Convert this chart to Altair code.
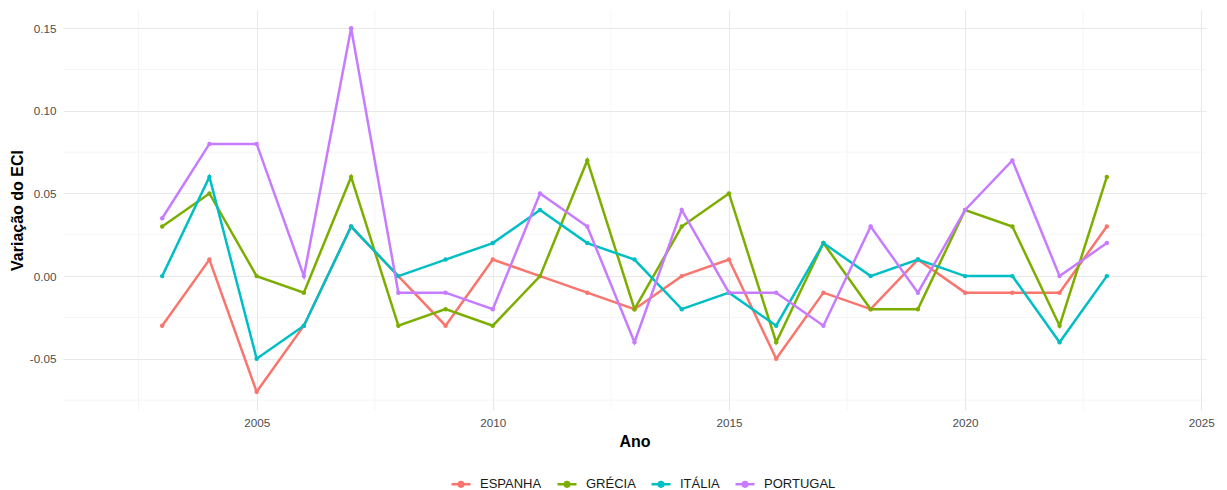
import altair as alt
import pandas as pd

anos = list(range(2003, 2024))
paises = ["ESPANHA", "GRÉCIA", "ITÁLIA", "PORTUGAL"]
cores = ["#F8766D", "#7CAE00", "#00BFC4", "#C77CFF"]

espanha = [-0.03, 0.01, -0.07, -0.03, 0.03, 0.00, -0.03, 0.01, 0.00, -0.01, -0.02,
           0.00, 0.01, -0.05, -0.01, -0.02, 0.01, -0.01, -0.01, -0.01, 0.03]
grecia = [0.03, 0.05, 0.00, -0.01, 0.06, -0.03, -0.02, -0.03, 0.00, 0.07, -0.02,
          0.03, 0.05, -0.04, 0.02, -0.02, -0.02, 0.04, 0.03, -0.03, 0.06]
italia = [0.00, 0.06, -0.05, -0.03, 0.03, 0.00, 0.01, 0.02, 0.04, 0.02, 0.01,
          -0.02, -0.01, -0.03, 0.02, 0.00, 0.01, 0.00, 0.00, -0.04, 0.00]
portugal = [0.035, 0.08, 0.08, 0.00, 0.15, -0.01, -0.01, -0.02, 0.05, 0.03, -0.04,
            0.04, -0.01, -0.01, -0.03, 0.03, -0.01, 0.04, 0.07, 0.00, 0.02]

x_ticks = [2005, 2010, 2015, 2020, 2025]
x_minor = [2002.5, 2007.5, 2012.5, 2017.5, 2022.5]
y_ticks = [-0.05, 0.00, 0.05, 0.10, 0.15]
y_minor = [-0.075, -0.025, 0.025, 0.075, 0.125]
x_domain = [2000.9, 2025.1]
y_domain = [-0.081, 0.161]

series = [espanha, grecia, italia, portugal]
rows = []
for p, vals in zip(paises, series):
    for a, v in zip(anos, vals):
        rows.append({"Ano": a, "Valor": v, "País": p})
df = pd.DataFrame(rows)

FONT = "Liberation Sans, Arial, sans-serif"
x_scale = alt.Scale(domain=x_domain, nice=False, zero=False)
y_scale = alt.Scale(domain=y_domain, nice=False, zero=False)
color_scale = alt.Scale(domain=paises, range=cores)

minor_x = alt.Chart(pd.DataFrame({"Ano": x_minor})).mark_rule(
    color="#F2F2F2", strokeWidth=0.8
).encode(x=alt.X("Ano:Q", scale=x_scale))

minor_y = alt.Chart(pd.DataFrame({"Valor": y_minor})).mark_rule(
    color="#F2F2F2", strokeWidth=0.8
).encode(y=alt.Y("Valor:Q", scale=y_scale))

x_enc = alt.X(
    "Ano:Q", scale=x_scale,
    axis=alt.Axis(values=x_ticks, format="d", title="Ano", grid=True,
                  labelPadding=7, titlePadding=5),
)
y_enc = alt.Y(
    "Valor:Q", scale=y_scale,
    axis=alt.Axis(values=y_ticks, title="Variação do ECI", grid=True,
                  labelPadding=7, titlePadding=4,
                  labelExpr="datum.value < 0 ? '-' + format(-datum.value, '.2f') : format(datum.value, '.2f')"),
)
color_enc = alt.Color(
    "País:N", scale=color_scale,
    legend=alt.Legend(
        title=None, orient="none", direction="horizontal",
        legendX=387, legendY=463,
        symbolType="M-1,0L1,0M-0.24,0A0.24,0.24 0 1,0 0.24,0A0.24,0.24 0 1,0 -0.24,0Z",
        symbolSize=361, symbolStrokeWidth=2.5,
        labelFontSize=13, labelFont=FONT, labelColor="#1A1A1A",
        labelOffset=8, columnPadding=10, padding=0,
    ),
)

lines = alt.Chart(df).mark_line(strokeWidth=2.5).encode(
    x=x_enc, y=y_enc, color=color_enc, detail="País:N"
)
points = alt.Chart(df).mark_circle(size=20, opacity=1).encode(
    x=alt.X("Ano:Q", scale=x_scale), y=alt.Y("Valor:Q", scale=y_scale),
    color=alt.Color("País:N", scale=color_scale)
)

chart = alt.layer(minor_x, minor_y, lines, points).properties(
    width=1143, height=400,
    padding={"left": 55, "top": 2, "right": 13, "bottom": 80},
    autosize=alt.AutoSizeParams(type="none"),
).configure_view(stroke="transparent").configure_axis(
    labelFont=FONT, labelFontSize=11.7, labelColor="#4D4D4D",
    titleFont=FONT, titleFontSize=16, titleFontWeight="bold", titleColor="#000000",
    gridColor="#E8E8E8", gridWidth=1.1, domain=False, ticks=False,
)

chart.save("out.html", embed_options={"renderer": "svg", "actions": False})
